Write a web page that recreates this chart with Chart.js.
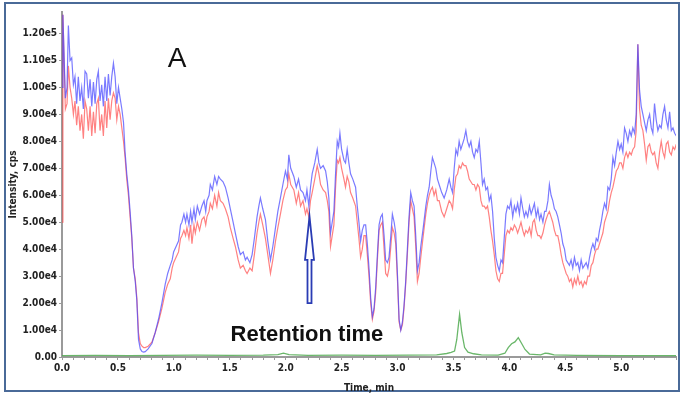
<!DOCTYPE html>
<html>
<head>
<meta charset="utf-8">
<script src="https://cdn.jsdelivr.net/npm/chart.js@4.4.1/dist/chart.umd.min.js"></script>
<style>
  body { margin: 0; background: #ffffff; }
  #wrap { position: relative; width: 680px; height: 394px; }
  #frame { position: absolute; left: 4px; top: 2px; width: 676px; height: 390px; box-sizing: border-box; border: 2px solid #4a6a98; }
  #chart { position: absolute; left: 0; top: 0; }
</style>
</head>
<body>
<div id="wrap">
  <div id="frame"></div>
  <canvas id="chart" width="680" height="394"></canvas>
</div>
<script>
// time (min) shared by the two noisy traces, intensities in units of 1e3 cps
var times = [0.000,0.008,0.030,0.045,0.057,0.072,0.087,0.102,0.116,0.131,0.146,0.161,0.176,0.191,0.206,0.221,0.236,0.251,0.266,0.281,0.296,0.311,0.325,0.340,0.355,0.370,0.385,0.400,0.415,0.430,0.445,0.460,0.475,0.490,0.505,0.520,0.535,0.550,
  0.564,0.579,0.594,0.609,0.624,0.639,0.655,0.669,0.684,0.700,0.715,0.730,0.744,0.770,0.804,0.833,0.863,0.893,0.923,0.945,0.968,0.985,0.998,1.020,1.042,1.060,1.072,1.090,1.105,1.117,1.135,1.150,1.162,1.180,1.192,1.210,1.230,1.251,1.270,1.285,1.296,1.315,
  1.326,1.345,1.365,1.385,1.400,1.416,1.440,1.461,1.485,1.505,1.530,1.550,1.575,1.595,1.620,1.640,1.655,1.680,1.700,1.720,1.744,1.760,1.774,1.795,1.819,1.840,1.864,1.885,1.909,1.930,1.953,1.975,1.998,2.015,2.028,2.045,2.073,2.095,2.115,2.133,2.155,2.177,2.190,2.207,2.222,2.237,2.260,2.282,2.297,2.312,2.335,2.357,2.372,2.386,2.401,2.416,2.431,2.446,2.461,2.473,2.485,2.500,2.521,2.535,2.550,2.565,2.580,2.600,2.625,2.640,2.655,2.670,2.685,2.700,
  2.715,2.730,2.745,2.760,2.775,2.790,2.805,2.820,2.835,2.850,2.864,2.880,2.894,2.910,2.924,2.940,2.954,2.970,2.984,3.000,3.014,3.029,3.044,3.058,3.073,3.088,3.103,3.118,3.133,3.148,3.163,3.178,3.193,3.208,3.230,3.253,3.268,3.283,3.298,3.312,3.327,3.342,3.357,3.372,3.395,3.417,3.440,3.462,3.477,3.492,3.507,3.522,3.537,3.551,3.566,3.581,3.596,3.611,3.626,3.641,3.656,3.671,3.686,3.701,3.716,3.731,3.746,3.760,3.775,3.790,3.805,3.820,3.835,3.850,3.865,3.880,3.895,3.910,3.925,3.939,3.954,3.969,3.984,4.000,4.014,4.030,4.045,4.059,4.074,4.090,
  4.104,4.120,4.134,4.148,4.164,4.180,4.195,4.210,4.224,4.240,4.255,4.270,4.283,4.300,4.315,4.328,4.345,4.358,4.373,4.388,4.403,4.418,4.433,4.448,4.463,4.478,4.493,4.508,4.522,4.537,4.552,4.567,4.582,4.597,4.612,4.627,4.642,4.657,4.672,4.687,4.702,4.717,4.732,4.747,4.762,4.777,4.791,4.806,4.821,4.836,4.851,4.866,4.881,4.896,4.911,4.926,4.941,4.956,4.971,4.986,5.000,5.015,5.030,5.045,5.060,5.075,5.090,5.104,5.120,5.134,5.149,5.164,5.179,5.194,5.209,5.224,5.239,5.254,5.269,5.283,5.298,5.313,5.328,5.343,5.358,5.373,5.388,5.403,5.418,5.433,5.448,5.463,5.478,5.493];

var blueTrace = [100,127,96,100,123,110,111,101,104,94,104,95,100,92,106,105,96,103,93,102,94,103,106,95,101,93,104,95,105,97,104,109,104,94,100,96,92,87,
  76,68,62,54,45,33,28,21,6.5,3,2,1.8,2,3,5,9,14,20,27,31,34,36,39,41,43,49,50,53,50,53,49,54,50,55,51,56,53,56,58,54,58,60,
  64,62,67,64,67,66,65,63,59,55,50,46,41,38,39,36,37,35,38,44,52,56,59,55,51,43,36,41,48,54,59,64,69,66,75,70,67,63,66,62,61,58,62,56,63,68,72,77,72,70,71,69,65,59,46,50,54,68,80,78,83,77,73,72,77,72,68,66,63,56,50,43,47,49,
  49,42,33,22,15,18,26,38,49,52,53,45,36,35,37,45,53,50,46,30,14,10,13,19,28,40,52,61,58,56,45,32,35,41,48,56,60,63,69,74,72,70,66,64,61,59,62,66,63,61,70,77,75,80,77,79,81,84,80,78,80,76,74,77,76,80,72,64,66,62,63,58,60,54,44,37,34,32,36,35,44,53,56,55,58,52,56,54,57,53,
  59,55,52,54,52,56,53,55,57,52,55,51,53,50,54,54,58,64,60,58,55,54,52,49,46,42,40,36,35,34,36,33,37,34,35,32,36,33,34,35,33,37,40,42,40,44,43,47,50,54,57,55,63,62,66,74,71,76,80,77,79,76,85,83,80,84,82,85,83,90,116,99,93,90,87,84,88,90,85,83,94,88,84,86,85,90,93,88,85,91,84,85,83,82];

var redTrace = [50,127,92,94,108,100,96,90,95,86,93,84,90,81,95,92,84,93,82,91,83,94,96,84,90,82,95,85,96,88,95,98,96,88,93,90,85,80,
  74,66,60,52,44,33,29,22,9,5,4,3.5,3.5,4,5.5,9,13,18,24,27,29,33,35,37,39,44,45,47,45,48,44,49,42,49,46,50,47,51,52,49,52,54,
  57,55,60,56,61,58,57,55,52,48,44,41,36,33,34,32,31,33,32,38,46,50,53,49,44,38,31,36,43,48,53,58,62,63,68,64,62,57,61,56,58,53,55,52,58,61,66,71,68,64,62,61,58,54,41,45,49,63,73,72,74,70,66,63,67,65,61,59,56,50,44,37,40,45,
  45,38,30,20,14,17,24,36,47,49,50,40,31,30,33,41,48,46,42,28,13,10,12,18,27,38,50,58,55,52,41,28,31,37,45,53,57,60,62,63,60,62,58,58,54,52,55,58,57,55,62,67,68,71,70,72,71,71,69,66,65,64,64,62,64,63,58,56,56,55,56,52,47,43,38,32,29,28,31,31,38,45,47,46,48,47,49,48,46,48,
  50,47,45,47,46,48,45,50,51,47,45,45,44,46,49,51,53,54,52,50,47,45,45,42,38,35,33,31,30,28,29,26,29,27,30,27,28,26,28,27,30,30,34,35,38,40,40,42,44,46,50,52,54,58,61,63,66,69,70,72,72,70,74,76,74,76,75,77,78,84,116,92,86,84,79,73,78,79,76,75,76,72,70,76,80,76,74,79,80,76,75,78,77,79];

// third trace (green), own time points
var greenTimes = [0.00,0.30,0.60,0.90,1.20,1.50,1.80,1.93,1.98,2.03,2.20,2.50,2.80,3.10,3.35,3.44,3.48,3.51,3.53,3.555,3.575,3.60,3.63,3.68,3.75,3.90,3.96,3.99,4.02,4.05,4.08,4.11,4.14,4.18,4.28,4.32,4.35,4.40,4.60,5.00,5.50];
var greenTrace = [0.5,0.6,0.5,0.6,0.7,0.6,0.7,0.9,1.4,0.9,0.6,0.7,0.6,0.7,0.8,1.3,1.7,2.2,6.5,15.8,9,3.5,1.8,1.2,0.8,0.7,1.4,3.5,4.9,5.6,7.2,5.0,2.8,1.1,0.8,1.4,1.3,0.8,0.6,0.5,0.5];

var yTicksMax = 120;
var xLabelStep = 0.5;

function pts(ts, vs) {
  return ts.map(function (t, i) { return { x: t, y: vs[i] }; });
}

var tickFont = { family: "'Liberation Sans Narrow', 'DejaVu Sans Condensed', Arial, sans-serif", size: 10, weight: 'bold' };

var notes = {
  id: 'notes',
  afterDatasetsDraw: function (chart) {
    var ctx = chart.ctx, x = chart.scales.x, y = chart.scales.y;
    ctx.save();
    ctx.fillStyle = '#111';
    ctx.textAlign = 'center';
    ctx.textBaseline = 'alphabetic';
    ctx.font = '28px "Liberation Sans", Arial, sans-serif';
    ctx.fillText('A', x.getPixelForValue(1.03), y.getPixelForValue(107.5));
    ctx.font = 'bold 22px "Liberation Sans", Arial, sans-serif';
    ctx.fillText('Retention time', x.getPixelForValue(2.19), y.getPixelForValue(5.8));

    // hollow arrow pointing up
    var ax = x.getPixelForValue(2.213);
    var tip = y.getPixelForValue(52.2), base = y.getPixelForValue(36), foot = y.getPixelForValue(20);
    ctx.beginPath();
    ctx.moveTo(ax, tip);
    ctx.lineTo(ax + 4.5, base);
    ctx.lineTo(ax + 2, base);
    ctx.lineTo(ax + 2, foot);
    ctx.lineTo(ax - 2, foot);
    ctx.lineTo(ax - 2, base);
    ctx.lineTo(ax - 4.5, base);
    ctx.closePath();
    ctx.fillStyle = '#ffffff';
    ctx.fill();
    ctx.lineWidth = 1.8;
    ctx.strokeStyle = '#2a3cb4';
    ctx.stroke();
    ctx.restore();
  }
};

var ctx = document.getElementById('chart').getContext('2d');
var chart = new Chart(ctx, {
  type: 'line',
  data: {
    datasets: [
      { label: 'blue', data: pts(times, blueTrace), borderColor: 'rgba(70,70,255,0.72)', borderWidth: 1.2, pointRadius: 0, tension: 0 },
      { label: 'red', data: pts(times, redTrace), borderColor: 'rgba(255,70,70,0.68)', borderWidth: 1.2, pointRadius: 0, tension: 0 },
      { label: 'green', data: pts(greenTimes, greenTrace), borderColor: 'rgba(80,170,80,0.85)', borderWidth: 1.3, pointRadius: 0, tension: 0 }
    ]
  },
  options: {
    responsive: false,
    animation: false,
    layout: { padding: { top: 12, right: 4, left: 0, bottom: 0 } },
    plugins: { legend: { display: false }, tooltip: { enabled: false } },
    scales: {
      x: {
        type: 'linear',
        min: 0,
        max: 5.49,
        border: { color: '#9a9a9a', width: 2 },
        grid: { drawOnChartArea: false, tickLength: 3, color: '#9a9a9a' },
        ticks: {
          stepSize: 0.1,
          autoSkip: false,
          maxRotation: 0,
          padding: 2,
          color: '#222',
          font: tickFont,
          callback: function (v) {
            var k = v / xLabelStep;
            return Math.abs(k - Math.round(k)) < 1e-6 ? v.toFixed(1) : '';
          }
        },
        title: { display: true, text: 'Time, min', color: '#222', font: tickFont, padding: { top: 0, bottom: 0 } },
        afterFit: function (s) { s.height = 37; }
      },
      y: {
        min: 0,
        max: 128,
        border: { color: '#9a9a9a', width: 2 },
        grid: { drawOnChartArea: false, tickLength: 3, color: '#9a9a9a' },
        afterBuildTicks: function (s) {
          s.ticks = s.ticks.filter(function (t) { return t.value % 10 === 0 && t.value <= yTicksMax; });
        },
        ticks: {
          stepSize: 10,
          padding: 2,
          color: '#222',
          font: tickFont,
          callback: function (v) {
            if (v === 0) return '0.00';
            return (v * 1000).toExponential(2).replace('+', '');
          }
        },
        title: { display: true, text: 'Intensity, cps', color: '#222', font: tickFont, padding: { top: 7, bottom: 0 } },
        afterFit: function (s) { s.width = 62; }
      }
    }
  },
  plugins: [notes]
});
</script>
</body>
</html>
